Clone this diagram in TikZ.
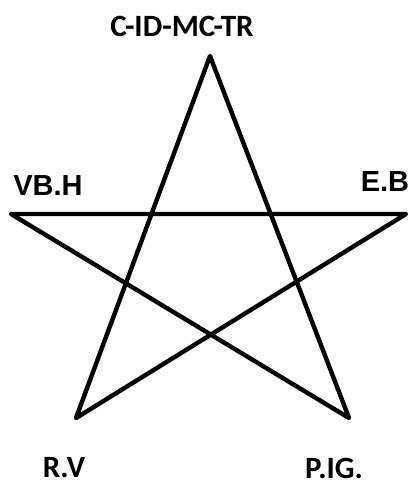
\documentclass[tikz,border=0pt]{standalone}
\usepackage{fontspec}
\newfontfamily\carl{Carlito}
\newfontfamily\arial{Liberation Sans}
\begin{document}
\begin{tikzpicture}[x=1pt,y=1pt,
  starline/.style={line width=4.4pt,line join=round},
  lblc/.style={font=\carl\bfseries\fontsize{31}{33}\selectfont,inner sep=0pt},
  lbla/.style={font=\arial\bfseries\fontsize{29}{31}\selectfont,inner sep=0pt}]
\useasboundingbox (0,0) rectangle (410,488);
\coordinate (T) at (210,432);
\coordinate (L) at (11,274);
\coordinate (R) at (406,274);
\coordinate (BL) at (76,70);
\coordinate (BR) at (349,70);
\draw[starline] (T) -- (BL) -- (R) -- (L) -- (BR) -- cycle;
\node[lblc] (tl) at (182,462) {C-ID-MC-TR};
\node[lbla] (vbh) at (48,302) {VB.H};
\node[lbla] (eb) at (385,306) {E.B};
\node[lblc] (rv) at (64,20) {R.V};
\node[lblc] (pig) at (334,20) {P.IG.};
\end{tikzpicture}
\end{document}
